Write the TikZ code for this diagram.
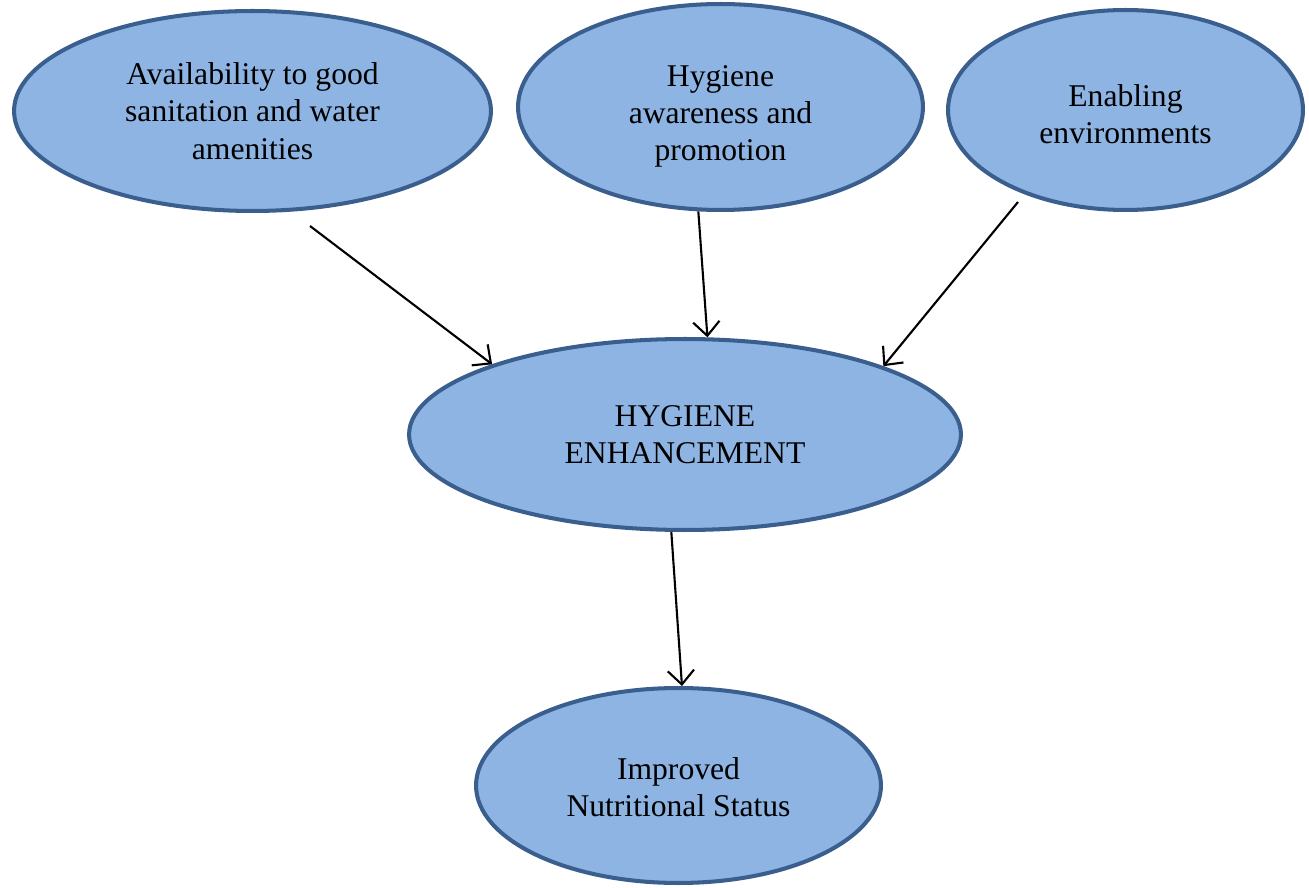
\documentclass[tikz,border=0pt]{standalone}
\usepackage{fontspec}
\setmainfont{Liberation Serif}
\usepackage{tikz}
\usetikzlibrary{positioning}
\usetikzlibrary{shapes.geometric}
\usetikzlibrary{arrows.meta}

\definecolor{elfill}{HTML}{8EB4E3}
\definecolor{elline}{HTML}{3A5F8E}

\begin{document}
\begin{tikzpicture}[x=0.02cm, y=-0.02cm,
    every node/.style={draw=elline, fill=elfill, ellipse, line width=2.3pt, inner sep=0pt,
      align=center, font=\fontsize{18}{21.2}\selectfont},
    flecha/.style={-{Straight Barb[length=8pt,width=15pt,line width=1.2pt]}, line width=1.2pt}]
          \useasboundingbox (0,0) rectangle (1309,888);
          % Nodos
          \node[minimum width=9.54cm, minimum height=4cm](avail) at (252.5,111) {Availability to good\\sanitation and water\\amenities};
          \node[minimum width=8.1cm, minimum height=4.12cm](aware) at (720.5,107) {\rule{0pt}{22.5pt}Hygiene\\awareness and\\promotion};
          \node[minimum width=7.1cm, minimum height=4cm](enable) at (1125.5,110) {\rule{0pt}{17.5pt}Enabling\\environments};
          \node[minimum width=11.04cm, minimum height=3.82cm](hub) at (685,434.5) {HYGIENE\\ENHANCEMENT};
          \node[minimum width=8.1cm, minimum height=3.9cm](status) at (678.5,785.5) {\rule{0pt}{14.5pt}Improved\\Nutritional Status};
          \coordinate (avail-out) at (310,226);
          \coordinate (enable-out) at (1018,202);

          % Flechas
          \draw[flecha] (avail-out) -- (hub.160);
          \draw[flecha] (aware.-102) -- (hub.77);
          \draw[flecha] (enable-out) -- (hub.19);
          \draw[flecha] (hub.-98) -- (status.88);

        \end{tikzpicture}
\end{document}
